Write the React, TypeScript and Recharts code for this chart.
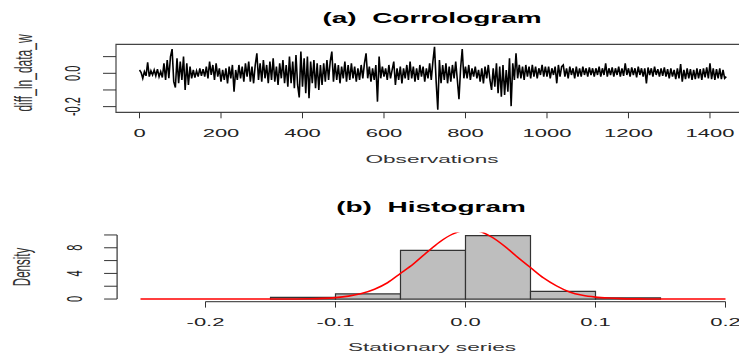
import React from 'react';
import { LineChart, Line, XAxis, YAxis, ReferenceArea, ReferenceLine, ComposedChart } from 'recharts';

const FONT = "'Liberation Sans', Arial, Helvetica, sans-serif";
const SX = 2; // horizontal stretch of the reference image

// ---------- (a) time series of diff_ln_data_w (one reading every 4 observations) ----------
const obsStep = 4;
const seriesValues = [
  0.02, 0.005, -0.03, 0.01, -0.015, 0.066, -0.02, 0.015, -0.01, 0.02,
  -0.015, 0.025, -0.02, 0.01, -0.025, 0.06, -0.04, 0.08, -0.03, 0.1,
  0.145, -0.05, -0.085, 0.09, -0.06, 0.07, -0.04, 0.1, -0.1, 0.06,
  -0.07, 0.04, -0.03, 0.02, -0.025, 0.015, -0.02, 0.03, -0.015, 0.025,
  -0.02, 0.04, -0.03, 0.07, -0.01, 0.05, -0.04, 0.06, -0.02, 0.03,
  -0.05, 0.02, -0.04, 0.03, -0.06, 0.04, -0.03, 0.05, -0.11, 0.02,
  -0.04, 0.05, -0.03, 0.04, -0.05, 0.06, -0.02, 0.07, -0.05, 0.04,
  -0.06, 0.05, 0.12, -0.04, 0.06, -0.05, 0.08, -0.03, 0.05, -0.06,
  0.07, -0.04, 0.09, -0.05, 0.04, -0.07, 0.06, -0.03, 0.08, -0.06,
  0.05, -0.08, 0.1, -0.06, 0.07, -0.09, 0.11, -0.07, -0.145, 0.13,
  -0.08, 0.09, -0.12, 0.1, -0.15, 0.07, -0.06, 0.08, -0.09, 0.06,
  -0.1, 0.05, -0.07, 0.06, -0.05, 0.08, -0.04, 0.07, 0.13, -0.05,
  0.06, -0.04, 0.05, -0.06, 0.04, -0.03, 0.07, -0.05, 0.05, -0.04,
  0.06, -0.03, 0.04, -0.05, 0.03, -0.04, 0.05, -0.03, 0.06, 0.12,
  -0.03, 0.04, -0.05, 0.03, -0.04, 0.05, -0.17, 0.1, -0.03, 0.04,
  -0.02, 0.03, -0.04, 0.05, -0.03, 0.02, 0.07, -0.07, 0.03, -0.04,
  0.04, -0.06, 0.03, -0.03, 0.05, -0.04, 0.07, -0.03, 0.04, -0.05,
  0.03, -0.04, 0.05, -0.02, 0.04, -0.05, 0.03, -0.03, 0.06, -0.04,
  0.07, 0.159, -0.05, -0.219, 0.08, -0.06, 0.05, -0.04, 0.06, -0.06,
  0.04, -0.05, 0.05, -0.03, 0.07, -0.04, -0.155, 0.03, 0.146, -0.03,
  0.04, -0.03, 0.05, -0.04, 0.03, -0.02, 0.04, -0.03, 0.02, -0.05,
  0.03, -0.06, 0.04, -0.03, 0.05, -0.04, -0.1, 0.03, -0.08, 0.06,
  -0.12, 0.04, -0.14, 0.05, -0.13, 0.02, -0.11, 0.09, -0.197, 0.06,
  -0.04, 0.12, -0.03, 0.05, -0.03, 0.04, -0.04, 0.05, -0.02, 0.04,
  -0.03, 0.05, -0.02, 0.04, -0.03, 0.03, -0.01, 0.05, -0.02, 0.04,
  -0.02, 0.04, -0.03, 0.03, -0.01, 0.04, -0.06, 0.05, -0.02, 0.04,
  0.05, -0.02, 0.03, -0.03, 0.04, -0.01, 0.03, -0.03, 0.04, -0.02,
  0.03, -0.02, 0.04, -0.01, 0.03, -0.02, 0.035, -0.01, 0.03, -0.02,
  0.03, -0.01, 0.04, -0.02, 0.03, -0.01, 0.06, -0.02, 0.03, -0.01,
  0.035, -0.02, 0.03, -0.01, 0.04, -0.02, 0.03, -0.015, 0.06, -0.01,
  0.03, -0.02, 0.035, -0.01, 0.03, -0.025, 0.04, -0.01, 0.03, -0.02,
  0.03, -0.06, 0.035, -0.01, 0.03, -0.02, 0.04, -0.01, 0.025, -0.02,
  0.03, -0.015, 0.035, -0.02, 0.025, -0.03, 0.03, -0.02, 0.02, -0.035,
  0.03, -0.03, 0.055, -0.05, 0.02, -0.035, 0.03, -0.03, 0.025, -0.04,
  0.02, -0.035, 0.03, -0.03, 0.025, -0.04, 0.03, -0.025, 0.035, -0.03,
  0.06, -0.035, 0.03, -0.04, 0.025, -0.03, 0.03, -0.035, 0.02, -0.03, -0.02,
];
const obsTicks = [0, 200, 400, 600, 800, 1000, 1200, 1400];
const seriesTicks = [-0.2, -0.1, 0, 0.1];
const seriesTickLabels: Record<string, string> = { '0': '0.0', '-0.2': '-0.2' };
const obsDomain = [-57.7, 1499.7];
const seriesDomain = [-0.234, 0.174];

// ---------- (b) histogram ----------
const binStart = [-0.15, -0.1, -0.05, 0, 0.05, 0.1];
const binEnd = [-0.1, -0.05, 0, 0.05, 0.1, 0.15];
const binDensity = [0.27, 0.8, 7.6, 9.9, 1.2, 0.2];
const curveX = [
  -0.25, -0.24, -0.23, -0.22, -0.21, -0.2, -0.19, -0.18, -0.17, -0.16,
  -0.15, -0.14, -0.13, -0.12, -0.11, -0.1, -0.09, -0.08, -0.07, -0.06,
  -0.05, -0.04, -0.03, -0.02, -0.01, 0, 0.01, 0.02, 0.03, 0.04,
  0.05, 0.06, 0.07, 0.08, 0.09, 0.1, 0.11, 0.12, 0.13, 0.14,
  0.15, 0.16, 0.17, 0.18, 0.19, 0.2,
];
const curveDensity = [
  0, 0, 0, 0, 0, 0, 0, 0, 0, 0,
  0.002, 0.006, 0.016, 0.043, 0.1, 0.22, 0.46, 0.87, 1.54, 2.55,
  4.0, 5.5, 7.24, 8.89, 10.13, 10.74, 10.59, 9.7, 8.26, 6.54,
  4.9, 3.29, 2.05, 1.1, 0.58, 0.3, 0.15, 0.07, 0.03, 0.01,
  0.004, 0.001, 0, 0, 0, 0,
];
const histXTicks = [-0.2, -0.1, 0, 0.1, 0.2];
const histXLabels = ['-0.2', '-0.1', '0.0', '0.1', '0.2'];
const densityTicks = [0, 2, 4, 6, 8, 10];
const densityLabels: Record<string, string> = { '0': '0', '4': '4', '8': '8' };
const histXDomain = [-0.268, 0.218];
const densityDomain = [-0.4, 10.4];

const tsData = seriesValues.map((v, i) => ({ obs: i * obsStep, value: v }));
const curveData = curveX.map((x, i) => ({ x, density: curveDensity[i] }));

const makeXTick = (labelFor: (v: number) => string, dy: number) => (props: any) => {
  const { x, y, payload } = props;
  const label = labelFor(payload.value);
  if (!label) return <g />;
  return (
    <text
      transform={`translate(${x},${y + dy}) scale(${SX},1)`}
      textAnchor="middle"
      fontSize={11}
      fontFamily={FONT}
      fill="#222"
    >
      {label}
    </text>
  );
};

const makeYTick = (labelFor: (v: number) => string, dx: number) => (props: any) => {
  const { x, y, payload } = props;
  const label = labelFor(payload.value);
  if (!label) return <g />;
  return (
    <text
      transform={`translate(${x + dx},${y}) scale(${SX},1) rotate(-90)`}
      textAnchor="middle"
      fontSize={11}
      fontFamily={FONT}
      fill="#222"
    >
      {label}
    </text>
  );
};

const StretchText = ({ x, y, children, size, bold, rotate, fill }: any) => (
  <text
    transform={`translate(${x},${y}) scale(${SX},1)${rotate ? ' rotate(-90)' : ''}`}
    textAnchor="middle"
    fontSize={size}
    fontWeight={bold ? 'bold' : 'normal'}
    fontFamily={FONT}
    fill={fill || '#111'}
    style={{ whiteSpace: 'pre' }}
  >
    {children}
  </text>
);

export default function App() {
  return (
    <div style={{ position: 'absolute', left: 0, top: 0, width: 739, height: 358, overflow: 'hidden', background: '#fff' }}>
      <div style={{ position: 'absolute', left: 0, top: 0 }}>
        <LineChart width={760} height={180} data={tsData} margin={{ top: 44.3, right: 9.4, bottom: 37.7, left: 56 }}>
          <ReferenceArea
            x1={obsDomain[0]}
            x2={obsDomain[1]}
            y1={seriesDomain[0]}
            y2={seriesDomain[1]}
            fill="none"
            stroke="#444"
            strokeWidth={1.2}
            ifOverflow="visible"
          />
          <XAxis
            type="number"
            dataKey="obs"
            domain={obsDomain}
            ticks={obsTicks}
            interval={0}
            allowDataOverflow
            axisLine={false}
            tickLine={{ stroke: '#333' }}
            tickSize={6}
            tickMargin={2}
            height={30}
            tick={makeXTick((v) => String(v), 16.5)}
          />
          <YAxis
            type="number"
            domain={seriesDomain}
            ticks={seriesTicks}
            interval={0}
            allowDataOverflow
            axisLine={false}
            tickLine={{ stroke: '#333' }}
            tickSize={13}
            tickMargin={2}
            width={60}
            tick={makeYTick((v) => seriesTickLabels[String(v)] || '', -21)}
          />
          <Line
            type="linear"
            dataKey="value"
            stroke="#000"
            strokeWidth={1.6}
            dot={false}
            isAnimationActive={false}
          />
        </LineChart>
      </div>
      <div style={{ position: 'absolute', left: 0, top: 180 }}>
        <ComposedChart width={760} height={178} data={curveData} margin={{ top: 52.4, right: 11.1, bottom: 26.4, left: 57.1 }}>
          {binStart.map((s, i) => (
            <ReferenceArea
              key={i}
              x1={s}
              x2={binEnd[i]}
              y1={0}
              y2={binDensity[i]}
              fill="#BEBEBE"
              fillOpacity={1}
              stroke="#333"
              strokeWidth={1.2}
              ifOverflow="visible"
            />
          ))}
          <XAxis
            type="number"
            dataKey="x"
            domain={histXDomain}
            ticks={histXTicks}
            interval={0}
            allowDataOverflow
            axisLine={false}
            tickLine={{ stroke: '#333' }}
            tickSize={6}
            tickMargin={2}
            height={30}
            tick={makeXTick((v) => histXLabels[histXTicks.indexOf(v)] || '', 16.5)}
          />
          <YAxis
            type="number"
            domain={densityDomain}
            ticks={densityTicks}
            interval={0}
            allowDataOverflow
            axisLine={false}
            tickLine={{ stroke: '#333' }}
            tickSize={13}
            tickMargin={2}
            width={60}
            tick={makeYTick((v) => densityLabels[String(v)] || '', -20)}
          />
          <ReferenceLine
            segment={[{ x: histXTicks[0], y: densityDomain[0] }, { x: histXTicks[histXTicks.length - 1], y: densityDomain[0] }]}
            stroke="#555"
            strokeWidth={1.2}
            ifOverflow="visible"
          />
          <ReferenceLine
            segment={[{ x: histXDomain[0], y: densityTicks[0] }, { x: histXDomain[0], y: densityTicks[densityTicks.length - 1] }]}
            stroke="#333"
            strokeWidth={1.2}
            ifOverflow="visible"
          />
          <Line
            type="monotone"
            dataKey="density"
            stroke="#FF0000"
            strokeWidth={1.6}
            dot={false}
            isAnimationActive={false}
          />
        </ComposedChart>
      </div>
      <svg width={739} height={358} style={{ position: 'absolute', left: 0, top: 0, pointerEvents: 'none' }}>
        <StretchText x={432} y={23} size={14} bold fill="#000">{'(a)\u00a0\u00a0Corrologram'}</StretchText>
        <StretchText x={432} y={163} size={11.3} fill="#333">Observations</StretchText>
        <StretchText x={32} y={73} size={12} rotate fill="#333">diff_ln_data_w</StretchText>
        <StretchText x={431} y={212} size={14} bold fill="#000">{'(b)\u00a0\u00a0Histogram'}</StretchText>
        <StretchText x={432} y={351} size={11.3} fill="#333">Stationary series</StretchText>
        <StretchText x={30} y={267} size={11.5} rotate fill="#333">Density</StretchText>
      </svg>
    </div>
  );
}
